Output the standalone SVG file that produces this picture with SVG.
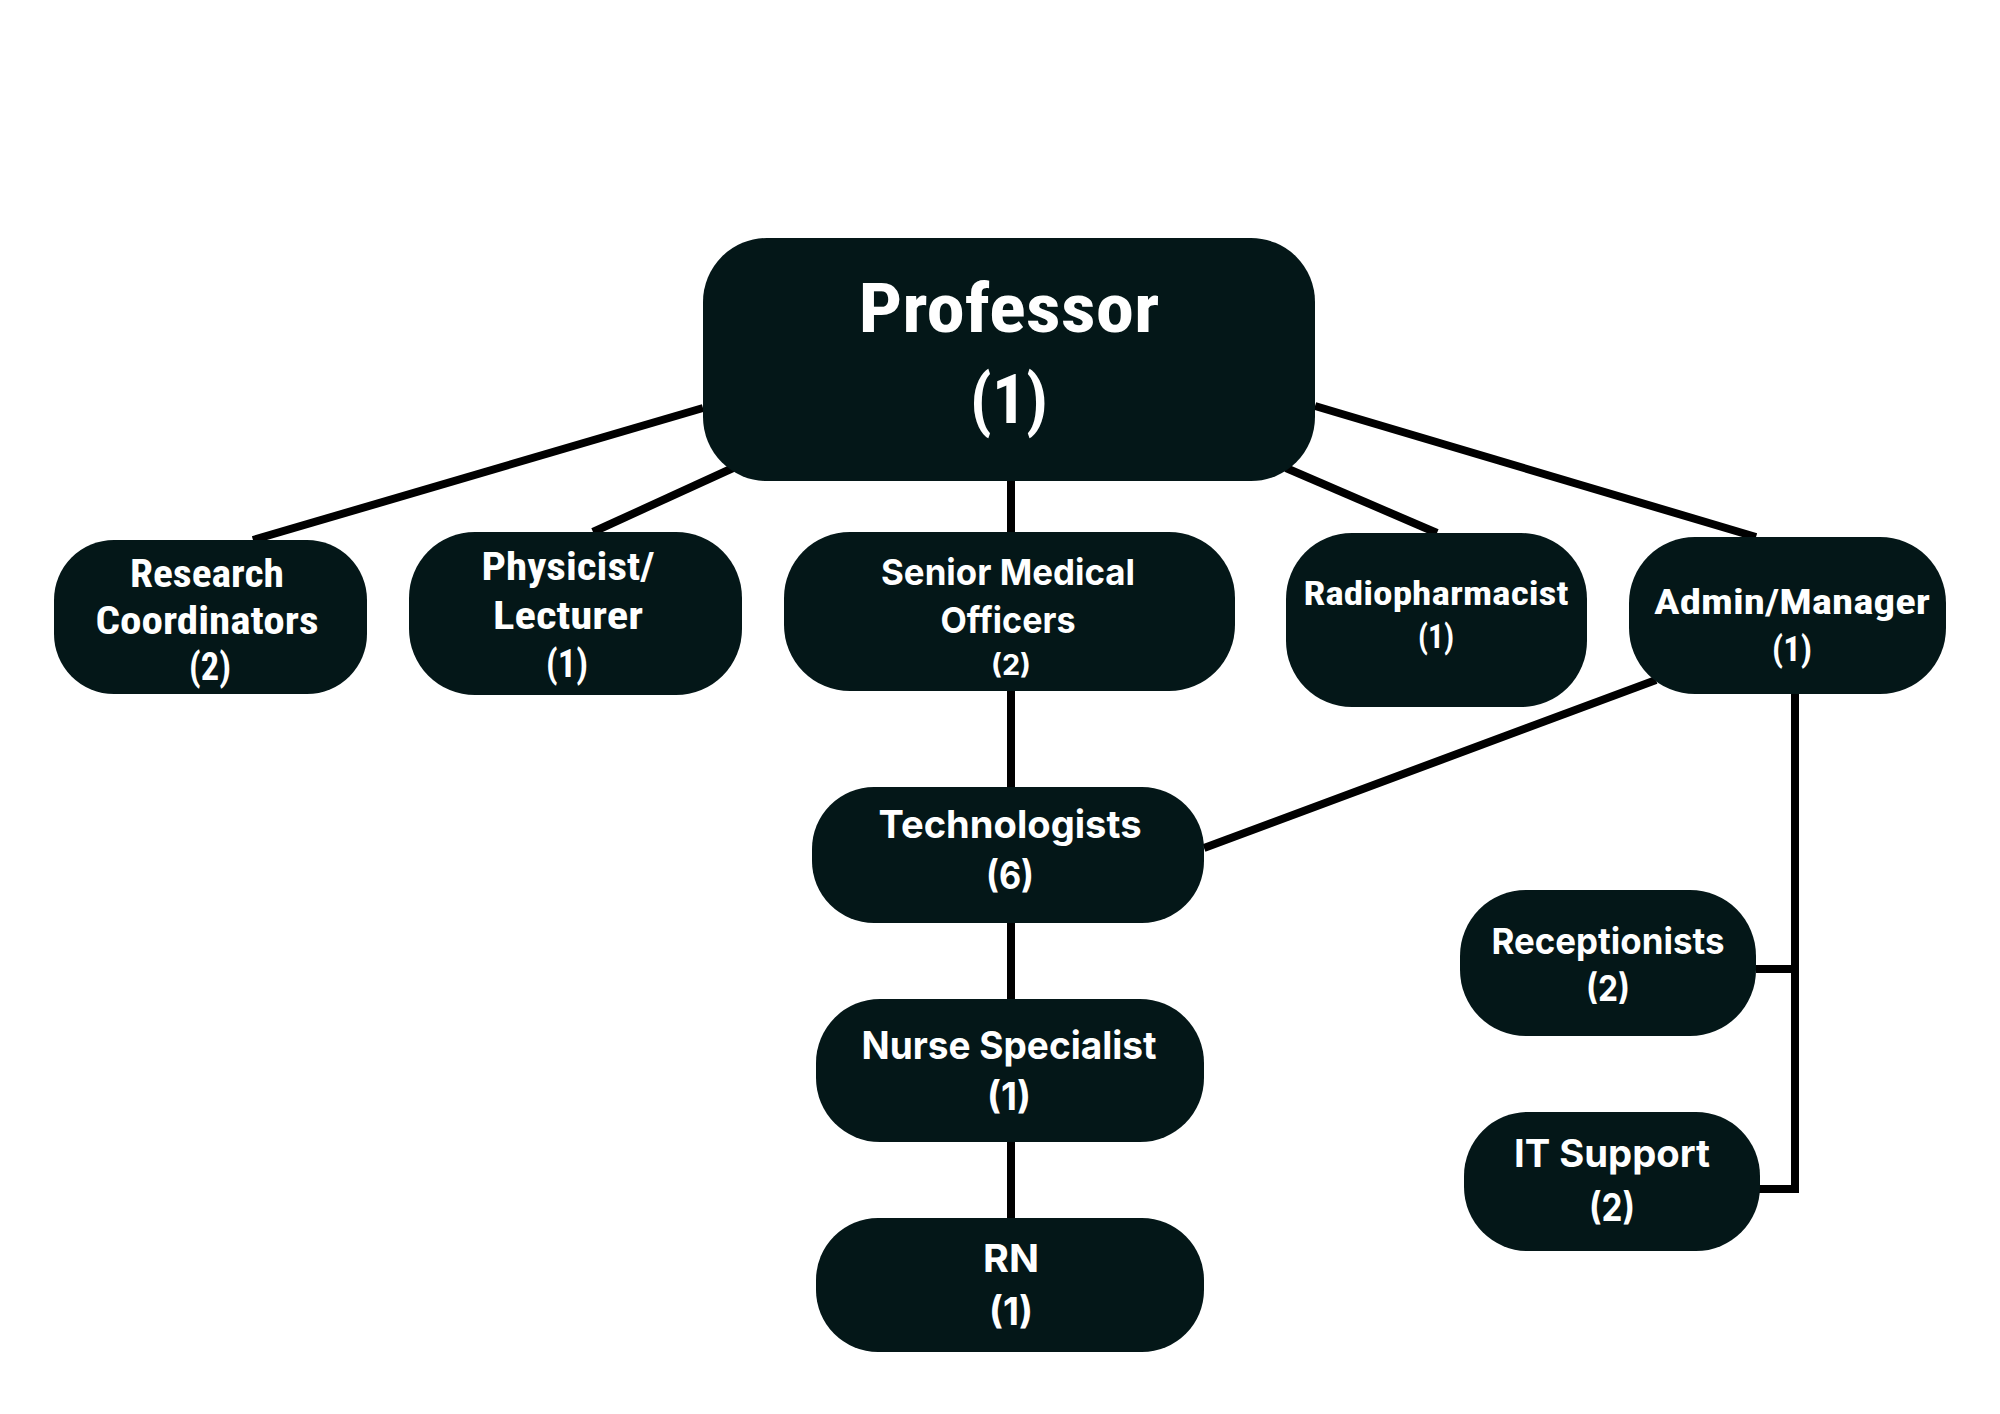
<svg xmlns="http://www.w3.org/2000/svg" width="2000" height="1414" viewBox="0 0 2000 1414">
<style>
.box{fill:#041718}
.c{fill:#fff;font-family:"Liberation Sans Narrow","Roboto Condensed","Noto Sans",sans-serif;font-weight:700;text-anchor:middle}
.w{fill:#fff;font-family:Inter,"Open Sans",sans-serif;font-weight:700;text-anchor:middle}
.ln{stroke:#000;stroke-width:8;fill:none}
</style>
<rect width="2000" height="1414" fill="#fff"/>
<g id="connectors">
<line class="ln" x1="703" y1="408" x2="253" y2="540"/>
<line class="ln" x1="733" y1="468" x2="593" y2="532"/>
<line class="ln" x1="1011" y1="481" x2="1011" y2="532"/>
<line class="ln" x1="1286" y1="468" x2="1437" y2="533"/>
<line class="ln" x1="1315" y1="406" x2="1756" y2="537"/>
<line class="ln" x1="1011" y1="691" x2="1011" y2="787"/>
<line class="ln" x1="1656" y1="680" x2="1204" y2="848"/>
<line class="ln" x1="1011" y1="923" x2="1011" y2="999"/>
<line class="ln" x1="1011" y1="1142" x2="1011" y2="1218"/>
<polyline class="ln" points="1795,694 1795,1189 1758,1189"/>
<line class="ln" x1="1756" y1="969" x2="1795" y2="969"/>
</g>
<g id="professor">
<rect class="box" x="703" y="238" width="612" height="243" rx="64"/>
<text class="c" x="1009" y="332" font-size="68" textLength="301" lengthAdjust="spacingAndGlyphs">Professor</text>
<text class="c" x="1009" y="423" font-size="68" textLength="78" lengthAdjust="spacingAndGlyphs">(1)</text>
</g>
<g id="research">
<rect class="box" x="54" y="540" width="313" height="154" rx="60"/>
<text class="c" x="207" y="587" font-size="38" textLength="154" lengthAdjust="spacingAndGlyphs">Research</text>
<text class="c" x="207" y="634" font-size="38" textLength="223" lengthAdjust="spacingAndGlyphs">Coordinators</text>
<text class="c" x="210" y="680" font-size="38" textLength="42" lengthAdjust="spacingAndGlyphs">(2)</text>
</g>
<g id="physicist">
<rect class="box" x="409" y="532" width="333" height="163" rx="66"/>
<text class="c" x="568" y="580" font-size="38" textLength="173" lengthAdjust="spacingAndGlyphs">Physicist/</text>
<text class="c" x="568" y="629" font-size="38" textLength="150" lengthAdjust="spacingAndGlyphs">Lecturer</text>
<text class="c" x="567" y="677" font-size="38" textLength="42" lengthAdjust="spacingAndGlyphs">(1)</text>
</g>
<g id="senior">
<rect class="box" x="784" y="532" width="451" height="159" rx="66"/>
<text class="w" x="1008" y="585" font-size="36" textLength="254" lengthAdjust="spacingAndGlyphs">Senior Medical</text>
<text class="w" x="1008" y="633" font-size="36" textLength="135" lengthAdjust="spacingAndGlyphs">Officers</text>
<text class="w" x="1011" y="675" font-size="28" textLength="40" lengthAdjust="spacingAndGlyphs">(2)</text>
</g>
<g id="radiopharmacist">
<rect class="box" x="1286" y="533" width="301" height="174" rx="66"/>
<text class="c" x="1436" y="605" font-size="33" textLength="265" lengthAdjust="spacingAndGlyphs">Radiopharmacist</text>
<text class="c" x="1436" y="648" font-size="33" textLength="36" lengthAdjust="spacingAndGlyphs">(1)</text>
</g>
<g id="admin">
<rect class="box" x="1629" y="537" width="317" height="157" rx="66"/>
<text class="c" x="1792" y="614" font-size="35" textLength="276" lengthAdjust="spacingAndGlyphs">Admin/Manager</text>
<text class="c" x="1792" y="661" font-size="35" textLength="40" lengthAdjust="spacingAndGlyphs">(1)</text>
</g>
<g id="technologists">
<rect class="box" x="812" y="787" width="392" height="136" rx="62"/>
<text class="w" x="1010" y="838" font-size="38" textLength="263" lengthAdjust="spacingAndGlyphs">Technologists</text>
<text class="w" x="1010" y="889" font-size="38" textLength="48" lengthAdjust="spacingAndGlyphs">(6)</text>
</g>
<g id="nurse">
<rect class="box" x="816" y="999" width="388" height="143" rx="64"/>
<text class="w" x="1009" y="1059" font-size="38" textLength="295" lengthAdjust="spacingAndGlyphs">Nurse Specialist</text>
<text class="w" x="1009" y="1110" font-size="38" textLength="44" lengthAdjust="spacingAndGlyphs">(1)</text>
</g>
<g id="rn">
<rect class="box" x="816" y="1218" width="388" height="134" rx="62"/>
<text class="w" x="1011" y="1272" font-size="38" textLength="56" lengthAdjust="spacingAndGlyphs">RN</text>
<text class="w" x="1011" y="1325" font-size="38" textLength="44" lengthAdjust="spacingAndGlyphs">(1)</text>
</g>
<g id="receptionists">
<rect class="box" x="1460" y="890" width="296" height="146" rx="66"/>
<text class="w" x="1608" y="954" font-size="36" textLength="233" lengthAdjust="spacingAndGlyphs">Receptionists</text>
<text class="w" x="1608" y="1001" font-size="36" textLength="44" lengthAdjust="spacingAndGlyphs">(2)</text>
</g>
<g id="itsupport">
<rect class="box" x="1464" y="1112" width="296" height="139" rx="64"/>
<text class="w" x="1612" y="1167" font-size="38" textLength="196" lengthAdjust="spacingAndGlyphs">IT Support</text>
<text class="w" x="1612" y="1221" font-size="38" textLength="46" lengthAdjust="spacingAndGlyphs">(2)</text>
</g>
</svg>
